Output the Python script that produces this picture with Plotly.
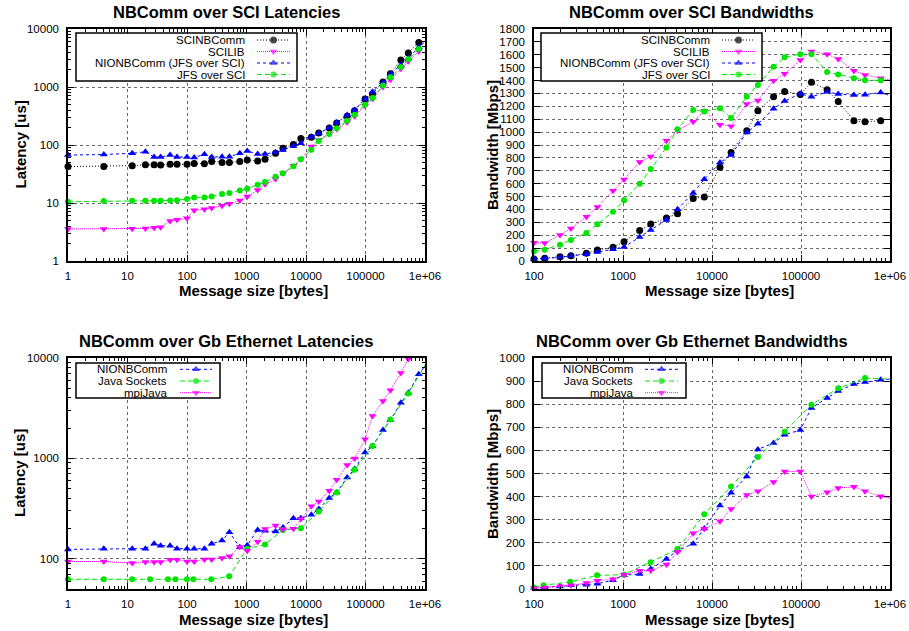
import plotly.graph_objects as go
import math

# ---------------- data ----------------
sizes = [1, 4, 12, 20, 28, 36, 52, 68, 100, 132, 196, 260, 388, 516, 772, 1028, 1540, 2052,
         3076, 4100, 6148, 8196, 12292, 16388, 24580, 32772, 49156, 65540, 98308, 131076,
         196612, 262148, 393220, 524292, 786436, 1048576]
bw_sizes = sizes[8:]
pow2_sizes = [1, 4, 12, 24, 48, 64, 100, 128, 256, 512, 1024, 2048, 4096, 8192, 16384, 32768,
              65536, 131072, 262144, 524288, 1048576]
pow2_bw_sizes = [100, 128, 256, 512, 1024, 2048, 4096, 8192, 16384, 32768, 65536, 131072,
                 262144, 524288, 1048576]

# SCI latencies [us]
sci_lat_scinbcomm = [42.5, 42.7, 44, 45.5, 45.5, 45, 46.5, 46.5, 46.5, 48, 47.5, 52, 50, 50, 52, 55,
                     53, 57, 72, 88, 102, 130, 136, 161, 196, 240, 312, 390, 620, 757, 1220, 1690,
                     2920, 3850, 5850]
sci_lat_scilib = [3.56, 3.56, 3.6, 3.65, 3.75, 3.8, 4.9, 5.15, 5.45, 7.5, 7.8, 8.2, 9.0, 9.7, 11,
                  13, 16.7, 21, 26, 32.5, 44, 57, 94, 122, 155, 189, 246, 312, 476, 628, 1000,
                  1340, 2070, 2770, 4130]
sci_lat_nionbcomm = [67, 68.5, 72, 76.5, 62, 62, 67, 62, 62, 61, 69, 62, 63, 63, 72, 79, 70, 70,
                     75, 82, 96, 107, 139, 158, 199, 243, 329, 401, 621, 832, 1200, 1675, 2400,
                     3130, 4830, 6300]
sci_lat_jfs = [10.5, 10.8, 10.9, 10.9, 10.9, 10.9, 11, 11.2, 11.7, 12.5, 12.5, 13, 14.3, 14.9,
               16.5, 17.6, 20.7, 23, 28.4, 32.5, 43, 57, 83, 117, 155, 194, 262, 333, 495, 645,
               1060, 1470, 2210, 3020, 4520]

# SCI bandwidths [Mbps]
sci_bw_scinbcomm = [15, 21, 33, 41, 60, 85, 106, 150, 236, 287, 334, 366, 484, 497, 728, 842,
                    1010, 1166, 1274, 1316, 1292, 1386, 1329, 1238, 1088, 1080, 1088]
sci_bw_scilib = [142, 140, 202, 252, 344, 419, 545, 632, 769, 810, 933, 1013, 1081, 1165, 1058,
                 1046, 1219, 1246, 1399, 1452, 1560, 1625, 1605, 1568, 1476, 1444, 1417, 1404]
sci_bw_nionbcomm = [15, 19, 28, 40, 53, 69, 91, 108, 186, 241, 319, 402, 528, 635, 764, 823, 997,
                    1064, 1181, 1241, 1298, 1274, 1313, 1295, 1287, 1290, 1308, 1278]
sci_bw_jfs = [75, 88, 127, 163, 218, 286, 382, 472, 600, 713, 880, 1022, 1172, 1160, 1185, 1110,
              1276, 1366, 1507, 1581, 1605, 1605, 1466, 1447, 1418, 1402, 1402, 1402]

# Gb Ethernet latencies [us]
gb_lat_nionbcomm = [124, 126, 126, 126, 141, 135, 135, 126, 126, 126, 126, 141, 152, 184, 130,
                    136, 194, 190, 187, 205, 254, 254, 275, 313, 403, 458, 646, 782, 1143, 1330,
                    1918, 2410, 3580, 4500, 6900, 8670]
gb_lat_javasockets = [62.4, 62.4, 62.4, 62.4, 62.4, 62.4, 62.4, 62.4, 62.4, 66.8, 126, 139, 194,
                      201, 295, 458, 769, 1330, 2440, 4430, 8790]
gb_lat_mpijava = [94, 94, 90.6, 92.7, 92.7, 92.7, 97.7, 97.7, 94, 94, 98.5, 98.5, 102, 106, 131,
                  120, 148, 198, 214, 197, 199, 249, 333, 373, 476, 612, 857, 998, 1550, 2640,
                  3720, 4770, 7080, 9800]

# Gb Ethernet bandwidths [Mbps]
gb_bw_nionbcomm = [4, 7, 11, 16, 18, 23, 38, 60, 65, 87, 130, 167, 196, 262, 361, 417, 487, 604,
                   632, 668, 688, 784, 827, 857, 887, 896, 906, 909]
gb_bw_javasockets = [6, 16, 31, 59, 62, 116, 173, 324, 444, 571, 681, 798, 869, 913, 909]
gb_bw_mpijava = [3, 7, 12, 16, 26, 36, 42, 62, 79, 80, 106, 160, 241, 261, 293, 346, 407, 423,
                 463, 509, 509, 400, 419, 437, 443, 423, 401, 391]

titles = ["NBComm over SCI Latencies", "NBComm over SCI Bandwidths",
          "NBComm over Gb Ethernet Latencies", "NBComm over Gb Ethernet Bandwidths"]
xlabel = "Message size [bytes]"
ylabels = ["Latency [us]", "Bandwidth [Mbps]", "Latency [us]", "Bandwidth [Mbps]"]
sci_names = ["SCINBComm", "SCILIB", "NIONBComm (JFS over SCI)", "JFS over SCI"]
gb_names = ["NIONBComm", "Java Sockets", "mpiJava"]

# ---------------- styles ----------------
W, H = 909, 631
FONT = "Liberation Sans, Arial, Helvetica, sans-serif"
BLACK, MAG, BLUE, GREEN = "#000000", "#ff00ff", "#0000ff", "#00e600"
st = {
    "SCINBComm": dict(color=BLACK, dash="1px,2px", symbol="circle", size=7),
    "SCILIB": dict(color=MAG, dash="1px,1px", symbol="triangle-down", size=7),
    "NIONBComm (JFS over SCI)": dict(color=BLUE, dash="3px,3px", symbol="triangle-up", size=7),
    "JFS over SCI": dict(color=GREEN, dash="5px,3px", symbol="circle", size=6),
    "NIONBComm": dict(color=BLUE, dash="3px,3px", symbol="triangle-up", size=7),
    "Java Sockets": dict(color=GREEN, dash="5px,3px", symbol="circle", size=6),
    "mpiJava": dict(color=MAG, dash="1px,1px", symbol="triangle-down", size=7),
}

def px(x):
    return x / W

def py(y):
    return 1 - y / H

fig = go.Figure()

def add_series(name, xs, ys, ax):
    s = st[name]
    fig.add_trace(go.Scatter(
        x=xs[:len(ys)], y=ys, mode="lines+markers", name=name, showlegend=False,
        xaxis="x" + ("" if ax == 1 else str(ax)), yaxis="y" + ("" if ax == 1 else str(ax)),
        line=dict(color=s["color"], width=1, dash=s["dash"]),
        marker=dict(symbol=s["symbol"], size=s["size"], color=s["color"], line=dict(width=0)),
        cliponaxis=False, hoverinfo="skip"))

add_series("SCINBComm", sizes, sci_lat_scinbcomm, 1)
add_series("SCILIB", sizes, sci_lat_scilib, 1)
add_series("NIONBComm (JFS over SCI)", sizes, sci_lat_nionbcomm, 1)
add_series("JFS over SCI", sizes, sci_lat_jfs, 1)

add_series("SCINBComm", bw_sizes, sci_bw_scinbcomm, 2)
add_series("SCILIB", bw_sizes, sci_bw_scilib, 2)
add_series("NIONBComm (JFS over SCI)", bw_sizes, sci_bw_nionbcomm, 2)
add_series("JFS over SCI", bw_sizes, sci_bw_jfs, 2)

add_series("NIONBComm", sizes, gb_lat_nionbcomm, 3)
add_series("Java Sockets", pow2_sizes, gb_lat_javasockets, 3)
add_series("mpiJava", sizes, gb_lat_mpijava, 3)

add_series("NIONBComm", bw_sizes, gb_bw_nionbcomm, 4)
add_series("Java Sockets", pow2_bw_sizes, gb_bw_javasockets, 4)
add_series("mpiJava", bw_sizes, gb_bw_mpijava, 4)

# ---------------- axes ----------------
panels = [((68, 425), (29, 261)), ((534, 890), (29, 261)),
          ((68, 425), (358, 589)), ((534, 890), (358, 589))]

def minor_vals(d0, d1, start=2):
    v = []
    for d in range(d0, d1):
        for k in range(2, 10):
            if d == d0 and k < start:
                continue
            v.append(k * 10 ** d)
    return v

def log_labels(d0, d1):
    vals = [10 ** d for d in range(d0, d1 + 1)]
    txt = [("1e+06" if v == 10 ** 6 else str(v)) for v in vals]
    return vals, txt

common = dict(showline=True, linecolor="black", linewidth=1.5, mirror="allticks",
              ticks="inside", ticklen=6, tickcolor="black", tickwidth=1,
              showgrid=True, gridcolor="#6a6a6a", gridwidth=1, griddash="dot",
              zeroline=False, tickfont=dict(family=FONT, size=11.5, color="black"),
              fixedrange=True, automargin=False)

xcfg = [(0, 6), (2, 6), (0, 6), (2, 6)]
for i, ((x0, x1), (y0, y1)) in enumerate(panels):
    n = "" if i == 0 else str(i + 1)
    d0, d1 = xcfg[i]
    tv, tt = log_labels(d0, d1)
    xa = dict(common, type="log", range=[d0, d1], domain=[px(x0), px(x1)],
              anchor="y" + n, tickmode="array", tickvals=tv, ticktext=tt,
              ticklabelstandoff=3,
              minor=dict(tickmode="array", tickvals=minor_vals(d0, d1), ticks="inside",
                         ticklen=3, tickcolor="black", showgrid=False))
    if i in (0, 2):
        if i == 0:
            ytv, ytt = log_labels(0, 4)
            mv = minor_vals(0, 4)
            yr = [0, 4]
        else:
            ytv, ytt = log_labels(2, 4)
            mv = minor_vals(1, 4, start=5)
            yr = [math.log10(50), 4]
        ya = dict(common, type="log", range=yr, domain=[py(y1), py(y0)], anchor="x" + n,
                  tickmode="array", tickvals=ytv, ticktext=ytt, ticklabelstandoff=5,
                  minor=dict(tickmode="array", tickvals=mv, ticks="inside", ticklen=3,
                             tickcolor="black", showgrid=False))
    else:
        top = 1800 if i == 1 else 1000
        ya = dict(common, type="linear", range=[0, top], domain=[py(y1), py(y0)],
                  anchor="x" + n, tickmode="linear", tick0=0, dtick=100, ticklabelstandoff=5)
    fig.layout["xaxis" + n] = xa
    fig.layout["yaxis" + n] = ya

# overlay pixel axes for the legends
fig.layout["xaxis5"] = dict(domain=[0, 1], range=[0, W], visible=False, anchor="y5",
                            fixedrange=True, automargin=False)
fig.layout["yaxis5"] = dict(domain=[0, 1], range=[H, 0], visible=False, anchor="x5",
                            fixedrange=True, automargin=False)

# ---------------- texts ----------------
ann = []
title_pos = [(226, 12), (691, 12), (226, 341), (692, 341)]
xlab_pos = [(253, 290), (719, 290), (253, 619), (719, 619)]
ylab_pos = [(19.5, 145), (492, 145), (19.5, 473.5), (492, 474)]
for i in range(4):
    ann.append(dict(x=px(title_pos[i][0]), y=py(title_pos[i][1]), xref="paper", yref="paper",
                    text="<b>%s</b>" % titles[i], showarrow=False, xanchor="center",
                    yanchor="middle", font=dict(family=FONT, size=16.5, color="black")))
    ann.append(dict(x=px(xlab_pos[i][0]), y=py(xlab_pos[i][1]), xref="paper", yref="paper",
                    text="<b>%s</b>" % xlabel, showarrow=False, xanchor="center",
                    yanchor="middle", font=dict(family=FONT, size=15, color="black")))
    ann.append(dict(x=px(ylab_pos[i][0]), y=py(ylab_pos[i][1]), xref="paper", yref="paper",
                    text="<b>%s</b>" % ylabels[i], showarrow=False, xanchor="center",
                    yanchor="middle", textangle=-90,
                    font=dict(family=FONT, size=15, color="black")))

# ---------------- legends ----------------
legends = [
    dict(box=(76, 33, 297, 81), rows=[40, 51.5, 63, 74.5], tx=247, sx=(257, 290), names=sci_names),
    dict(box=(541, 33, 762, 81), rows=[40, 51.5, 63, 74.5], tx=712, sx=(722, 755), names=sci_names),
    dict(box=(76, 363, 220, 398), rows=[369.3, 381, 392.7], tx=169, sx=(180, 212), names=gb_names),
    dict(box=(542, 363, 686, 398), rows=[369.3, 381, 392.7], tx=635, sx=(645, 678), names=gb_names),
]
shapes = []
for lg in legends:
    bx0, by0, bx1, by1 = lg["box"]
    shapes.append(dict(type="rect", xref="x5", yref="y5", x0=bx0, y0=by0, x1=bx1, y1=by1,
                       fillcolor="white", line=dict(color="black", width=1.5), layer="below"))
    for name, ry in zip(lg["names"], lg["rows"]):
        s = st[name]
        sx0, sx1 = lg["sx"]
        fig.add_trace(go.Scatter(
            x=[sx0, (sx0 + sx1) / 2, sx1], y=[ry, ry, ry], mode="lines+markers",
            xaxis="x5", yaxis="y5", showlegend=False, hoverinfo="skip", cliponaxis=False,
            line=dict(color=s["color"], width=1, dash=s["dash"]),
            marker=dict(symbol=s["symbol"], size=[0, s["size"], 0], color=s["color"],
                        line=dict(width=0))))
        ann.append(dict(x=lg["tx"], y=ry, xref="x5", yref="y5", text=name, showarrow=False,
                        xanchor="right", yanchor="middle",
                        font=dict(family=FONT, size=11.5, color="black")))

fig.update_layout(width=W, height=H, margin=dict(l=0, r=0, t=0, b=0, autoexpand=False),
                  paper_bgcolor="white", plot_bgcolor="rgba(0,0,0,0)",
                  annotations=ann, shapes=shapes, showlegend=False, hovermode=False,
                  font=dict(family=FONT, color="black"))

fig.write_html("out.html", config={"displayModeBar": False},
               post_script="document.body.style.margin='0';document.body.style.padding='0';"
                           "document.body.style.overflow='hidden';")
